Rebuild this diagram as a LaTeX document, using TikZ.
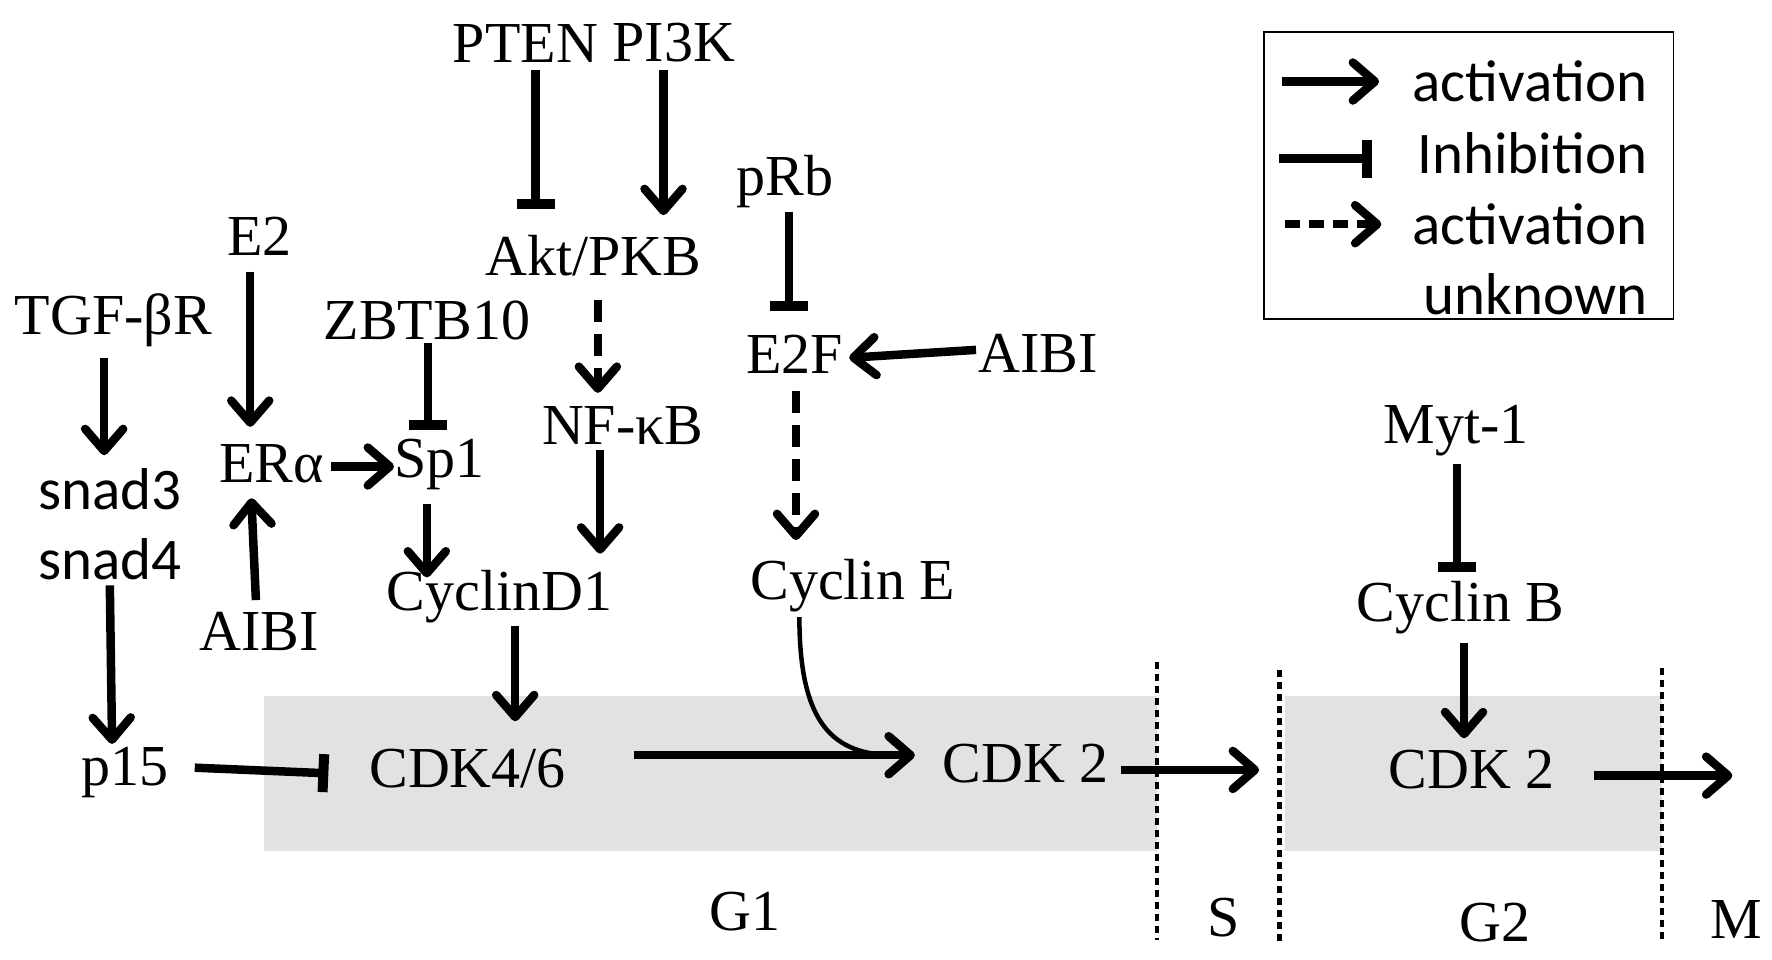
\documentclass[tikz,border=0pt]{standalone}
\usepackage{fontspec}
\setmainfont{Liberation Serif}
\newfontfamily\sansleg{Carlito}
\usetikzlibrary{arrows.meta,calc}
\definecolor{phase}{HTML}{E2E2E2}
\begin{document}
\begin{tikzpicture}[x=1.1323pt,y=-1.1323pt,
  lbl/.style={inner sep=0pt,font=\fontsize{58}{60}\selectfont},
  sl/.style={inner sep=0pt,font=\sansleg\fontsize{59}{61}\selectfont},
  act/.style={line width=8.5pt,-{Straight Barb[round,length=22pt,width=38pt,line width=8.5pt]}},
  dact/.style={act,dash pattern=on 22pt off 12pt},
  inh/.style={line width=8.5pt,-{Bar[width=38pt,line width=10pt]}},
  phasebox/.style={fill=phase,draw=none},
  divider/.style={line width=4.5pt,dash pattern=on 7pt off 5pt}]
\useasboundingbox (0,0) rectangle (1565,847);
% phase backgrounds
\fill[phasebox] (233,615) rectangle (1022,752);
\fill[phasebox] (1135,615) rectangle (1468,752);
% dividers
\draw[divider] (1022,585) -- (1022,830);
\draw[divider] (1130,592) -- (1130,832);
\draw[divider] (1468,590) -- (1468,830);
% nodes
\node[lbl] (pten) at (464,38) {PTEN};
\node[lbl] (pik) at (595,38) {PI3K};
\node[lbl] (prb) at (693,160) {pRb};
\node[lbl] (e2) at (229,209) {E2};
\node[lbl] (akt) at (524,226) {Akt/PKB};
\node[lbl] (tgf) at (100,283) {TGF-βR};
\node[lbl] (zbt) at (377,283) {ZBTB10};
\node[lbl] (e2f) at (702,313) {E2F};
\node[lbl] (aibia) at (917,312) {AIBI};
\node[lbl] (nfkb) at (550,376) {NF-κB};
\node[sl] (snad3) at (97,432) {snad3};
\node[lbl] (era) at (240,410) {ERα};
\node[lbl] (sp1) at (388,410) {Sp1};
\node[lbl] (myt) at (1286,380) {Myt-1};
\node[sl] (snad4) at (97,494) {snad4};
\node[lbl] (cyce) at (753,517) {Cyclin E};
\node[lbl] (cycd) at (441,527) {CyclinD1};
\node[lbl] (aibib) at (229,558) {AIBI};
\node[lbl] (cycb) at (1290,537) {Cyclin B};
\node[lbl] (p15) at (110,682) {p15};
\node[lbl] (cdkf) at (413,679) {CDK4/6};
\node[lbl] (cdka) at (906,674) {CDK 2};
\node[lbl] (cdkb) at (1300,680) {CDK 2};
\node[lbl] (gone) at (658,805) {G1};
\node[lbl] (sph) at (1081,810) {S};
\node[lbl] (gtwo) at (1320,815) {G2};
\node[lbl] (mph) at (1533,812) {M};
\coordinate (send) at (1112,680);
\coordinate (mend) at (1530,685);
% connectors
\draw[inh] ($(pten)+(9,24)$) -- ($(akt)+(-51,-41)$);
\draw[act] ($(pik)+(-9,24)$) -- ($(akt)+(62,-36)$);
\draw[inh] ($(prb)+(4,27)$) -- ($(e2f)+(-5,-38)$);
\draw[act] ($(e2)+(-8,31)$) -- ($(era)+(-19,-33)$);
\draw[act] ($(tgf)+(-8,33)$) -- ($(snad3)+(-5,-30)$);
\draw[inh] ($(zbt)+(1,20)$) -- ($(sp1)+(-10,-30)$);
\draw[dact] ($(akt)+(4,39)$) -- ($(nfkb)+(-22,-29)$);
\draw[act] ($(aibia)+(-55,-3)$) -- ($(e2f)+(48,3)$);
\draw[dact] ($(e2f)+(1,32)$) -- ($(cyce)+(-50,-40)$);
\draw[act] ($(nfkb)+(-20,21)$) -- ($(cycd)+(89,-38)$);
\draw[act] ($(era)+(52,2)$) -- ($(sp1)+(-40,2)$);
\draw[inh] ($(myt)+(1,30)$) -- ($(cycb)+(-3,-32)$);
\draw[act] ($(aibib)+(-3,-28)$) -- ($(era)+(-18,30)$);
\draw[act] ($(sp1)+(-11,35)$) -- ($(cycd)+(-64,-17)$);
\draw[act] ($(snad4)+(0,23)$) -- ($(p15)+(-11,-25)$);
\draw[act] ($(cycb)+(3,31)$) -- ($(cdkb)+(-7,-28)$);
\draw[act] ($(cycd)+(14,26)$) -- ($(cdkf)+(42,-42)$);
\draw[inh] ($(p15)+(62,-4)$) -- ($(cdkf)+(-123,4)$);
\draw[act] ($(cdkf)+(147,-12)$) -- ($(cdka)+(-98,-7)$);
\draw[line width=4.5pt] ($(cyce)+(-47,28)$) .. controls ($(cyce)+(-47,123)$) and ($(cdka)+(-170,-7)$) .. ($(cdka)+(-115,-7)$);
\draw[act] ($(cdka)+(84,6)$) -- (send);
\draw[act] ($(cdkb)+(108,5)$) -- (mend);
% legend
\draw[line width=1.8pt] (1116,28) rectangle (1478,282);
\coordinate (la1) at (1132,72); \coordinate (la2) at (1218,72);
\coordinate (lb1) at (1130,140); \coordinate (lb2) at (1212,140);
\coordinate (lc1) at (1135,198); \coordinate (lc2) at (1220,198);
\draw[act] (la1) -- (la2);
\draw[inh] (lb1) -- (lb2);
\draw[act,dash pattern=on 15pt off 9pt] (lc1) -- (lc2);
\node[sl,anchor=east] (lt1) at (1455,72) {activation};
\node[sl,anchor=east] (lt2) at (1455,135) {Inhibition};
\node[sl,anchor=east] (lt3) at (1455,198) {activation};
\node[sl,anchor=east] (lt4) at (1455,260) {unknown};
\end{tikzpicture}
\end{document}
